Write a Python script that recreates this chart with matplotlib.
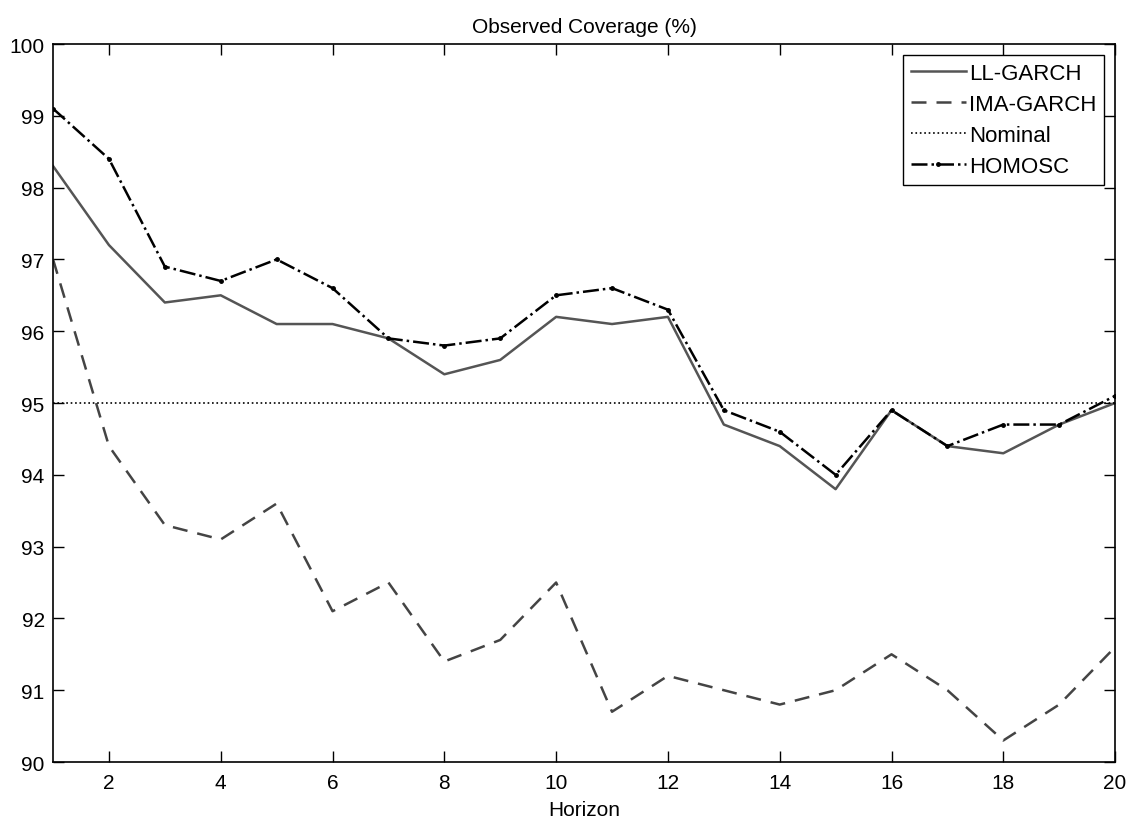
import matplotlib.pyplot as plt

plt.rcParams['font.family'] = ['Liberation Sans', 'DejaVu Sans']

horizon = list(range(1, 21))
ll_garch = [98.3, 97.2, 96.4, 96.5, 96.1, 96.1, 95.9, 95.4, 95.6, 96.2,
            96.1, 96.2, 94.7, 94.4, 93.8, 94.9, 94.4, 94.3, 94.7, 95.0]
ima_garch = [97.0, 94.4, 93.3, 93.1, 93.6, 92.1, 92.5, 91.4, 91.7, 92.5,
             90.7, 91.2, 91.0, 90.8, 91.0, 91.5, 91.0, 90.3, 90.8, 91.6]
homosc = [99.1, 98.4, 96.9, 96.7, 97.0, 96.6, 95.9, 95.8, 95.9, 96.5,
          96.6, 96.3, 94.9, 94.6, 94.0, 94.9, 94.4, 94.7, 94.7, 95.1]
nominal = 95.0

fig = plt.figure(figsize=(11.36, 8.2), dpi=100)
# axes box in figure fractions
ax = fig.add_axes([0.0467, 0.0695, 0.9349, 0.8756])

ax.plot(horizon, ll_garch, '-', color='#555555', lw=1.8, label='LL-GARCH')
ax.plot(horizon, ima_garch, '--', color='#444444', lw=1.8, dashes=(6, 4), label='IMA-GARCH')
ax.plot(horizon, [nominal] * len(horizon), ':', color='black', lw=1.2, label='Nominal')
ax.plot(horizon, homosc, '-.', color='black', lw=1.8, marker='.', markersize=5,
        label='HOMOSC')

ax.set_xlim(1, 20)
ax.set_ylim(90, 100)
ax.set_xticks(range(2, 21, 2))
ax.set_yticks(range(90, 101))
ax.tick_params(direction='in', length=8, width=1, top=True, right=True,
               labelsize=15, pad=6)
ax.tick_params(axis='x', pad=8)
for s in ax.spines.values():
    s.set_linewidth(1.2)

ax.set_title('Observed Coverage (%)', fontsize=15, pad=9)
ax.set_xlabel('Horizon', fontsize=15, labelpad=6)

leg = ax.legend(loc='upper right', fontsize=16, fancybox=False, framealpha=1,
                edgecolor='black', handlelength=2.5, handletextpad=0.12,
                borderaxespad=0.5, borderpad=0.35, labelspacing=0.45)
leg.get_frame().set_linewidth(1.0)

fig.savefig('out.png', dpi=100)
